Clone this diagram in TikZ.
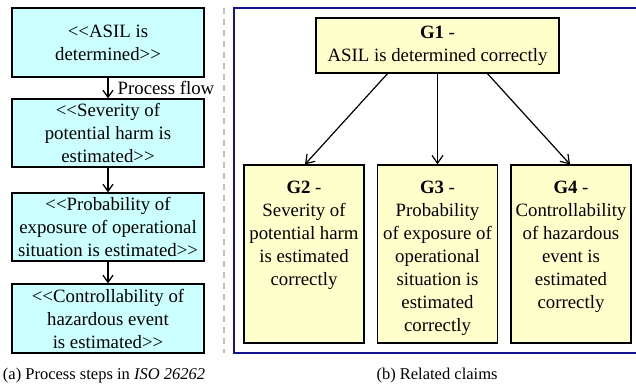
\documentclass[tikz,border=0pt]{standalone}
\usepackage{fontspec}
\setmainfont{Liberation Serif}
\usetikzlibrary{arrows.meta}
\definecolor{cyanfill}{RGB}{204,255,255}
\definecolor{yelfill}{RGB}{255,255,204}
\definecolor{framenavy}{RGB}{20,20,140}
\newcommand\LL{<\kern0pt<}
\newcommand\GG{>\kern0pt>}
\tikzset{
  every node/.style={font=\fontsize{18.8}{23}\selectfont},
  stepbox/.style={draw=black, line width=1.3pt, fill=cyanfill, align=center, minimum width=192pt, inner sep=0pt},
  gbox/.style={draw=black, line width=1.3pt, fill=yelfill, align=center, inner sep=0pt},
  gtext/.style={anchor=north, align=center, inner sep=0pt, font=\fontsize{18.8}{23}\selectfont},
  flow/.style={line width=1.3pt, -{Straight Barb[length=7pt,width=10pt,line width=1.3pt]}},
  sup/.style={line width=1.2pt, -{Straight Barb[length=8pt,width=11pt,line width=1.2pt]}}
}
\begin{document}
\begin{tikzpicture}[x=1pt,y=-1pt]
\useasboundingbox (0,0) rectangle (636,386);
% left column
\node[stepbox, minimum height=69pt] (s1) at (108,42.5) {\LL ASIL is\\determined\GG};
\node[stepbox, minimum height=68pt] (s2) at (108,133) {\LL Severity of\\potential harm is\\estimated\GG};
\node[stepbox, minimum height=68pt] (s3) at (108,227) {\LL Probability of\\exposure of operational\\situation is estimated\GG};
\node[stepbox, minimum height=69pt] (s4) at (108,318.5) {\LL Controllability of\\hazardous event\\is estimated\GG};
\draw[flow] (s1) -- (s2) node[midway, right, xshift=8pt, inner sep=1pt] (pf) {Process flow};
\draw[flow] (s2) -- (s3);
\draw[flow] (s3) -- (s4);
% separator
\coordinate (d1) at (224,8);
\coordinate (d2) at (224,353);
\draw[gray!50, line width=1.2pt, dash pattern=on 6pt off 5pt] (d1) -- (d2);
% frame
\coordinate (f1) at (234,8);
\coordinate (f2) at (640,353);
\draw[framenavy, line width=1.3pt] (f1) rectangle (f2);
% claims
\node[gbox, minimum width=243pt, minimum height=55pt] (g1) at (437.5,45.5) {\textbf{G1} -\\ASIL is determined correctly};
\node[gbox, minimum width=120pt, minimum height=178pt] (g2) at (304,254) {};
\node[gbox, minimum width=120pt, minimum height=178pt] (g3) at (437.5,254) {};
\node[gbox, minimum width=120pt, minimum height=178pt] (g4) at (571,254) {};
\node[gtext] (t2) at ([yshift=-16pt]g2.north) {\textbf{G2} -\\Severity of\\potential harm\\is estimated\\correctly};
\node[gtext] (t3) at ([yshift=-16pt]g3.north) {\textbf{G3} -\\Probability\\of exposure of\\operational\\situation is\\estimated\\correctly};
\node[gtext] (t4) at ([yshift=-16pt]g4.north) {\textbf{G4} -\\Controllability\\of hazardous\\event is\\estimated\\correctly};
\draw[sup] ([xshift=-50pt]g1.south) -- ([xshift=1pt]g2.north);
\draw[sup] (g1.south) -- (g3.north);
\draw[sup] ([xshift=50pt]g1.south) -- ([xshift=-1pt]g4.north);
% captions
\node (ca) at (104,376) {\fontsize{16.5}{20}\selectfont (a) Process steps in \textit{ISO 26262}};
\node (cb) at (437,376) {\fontsize{16.5}{20}\selectfont (b) Related claims};
\end{tikzpicture}
\end{document}
